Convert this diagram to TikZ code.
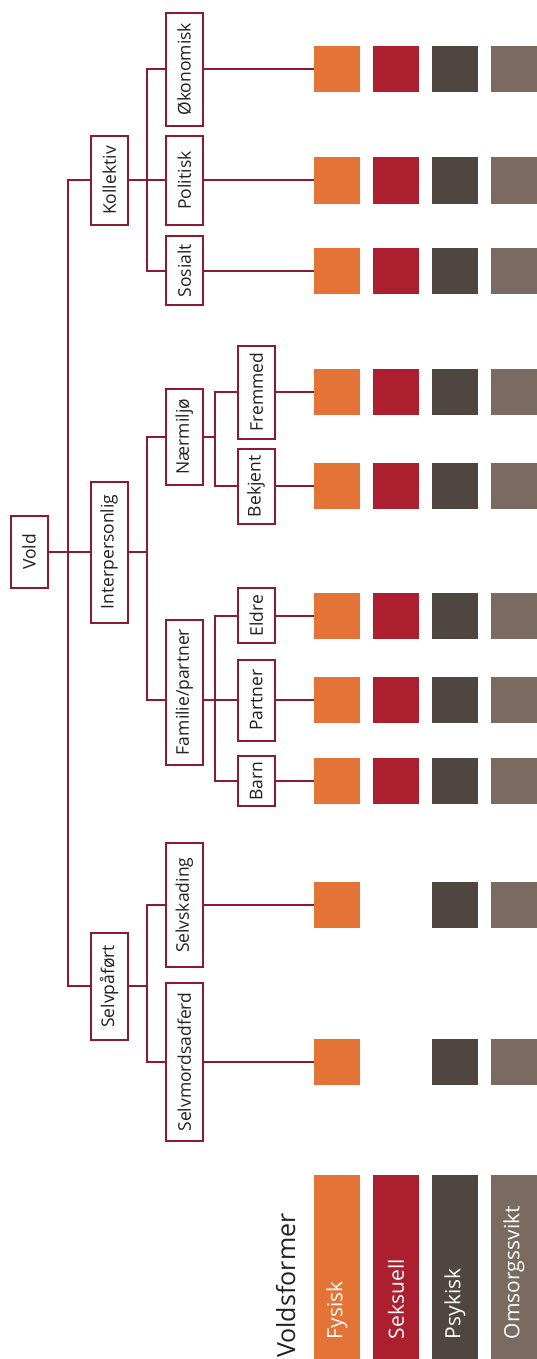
\documentclass[tikz,border=0pt]{standalone}
\usepackage{fontspec}
\setmainfont{Open Sans}
\definecolor{lc}{HTML}{8A1B31}
\definecolor{cfys}{HTML}{E37336}
\definecolor{csek}{HTML}{AB1F2F}
\definecolor{cpsy}{HTML}{4F4541}
\definecolor{coms}{HTML}{7A6A5F}
\definecolor{txt}{HTML}{231F20}
\begin{document}
\begin{tikzpicture}[x=1pt,y=-1pt,
  box/.style={draw=lc,line width=2pt,fill=white,rotate=90,minimum height=37pt,inner sep=0pt,font=\fontsize{17.5}{20}\selectfont,text=txt},
  sq/.style={minimum size=46pt,inner sep=0pt,draw=none},
  conn/.style={draw=lc,line width=2pt},
  bar/.style={rotate=90,minimum width=184pt,minimum height=46pt,text width=144pt,inner xsep=20pt,inner ysep=0pt,align=left,text=white,font=\fontsize{21}{24}\selectfont}
]
\useasboundingbox (0,0) rectangle (536,1359);
% tree nodes
\node[box,minimum width=72pt] (vold) at (29,552) {Vold};
\node[box,minimum width=89pt] (kol) at (109.2,180.5) {Kollektiv};
\node[box,minimum width=141pt] (inter) at (109.2,552) {Interpersonlig};
\node[box,minimum width=107pt] (selv) at (109.2,986.3) {Selvpåført};
\node[box,minimum width=113pt] (oko) at (184.3,69.2) {Økonomisk};
\node[box,minimum width=88pt] (pol) at (184.3,180.5) {Politisk};
\node[box,minimum width=69pt] (sos) at (184.3,270.7) {Sosialt};
\node[box,minimum width=96pt] (naer) at (184.3,436.7) {Nærmiljø};
\node[box,minimum width=145pt] (fam) at (184.3,692) {Familie/partner};
\node[box,minimum width=124pt] (skad) at (184.3,905.3) {Selvskading};
\node[box,minimum width=158pt] (mord) at (184.3,1062) {Selvmordsadferd};
\node[box,minimum width=93pt] (frem) at (256.2,392) {Fremmed};
\node[box,minimum width=75pt] (bek) at (256.2,486.3) {Bekjent};
\node[box,minimum width=55pt] (eld) at (256.2,615.7) {Eldre};
\node[box,minimum width=81pt] (par) at (256.2,700.3) {Partner};
\node[box,minimum width=50pt] (barn) at (256.2,781) {Barn};
% squares
\foreach \r/\y in {oko/69.2,pol/180.5,sos/270.7,frem/392,bek/486.3,eld/615.7,par/700.3,barn/781,skad/905.3,mord/1062}{
  \node[sq,fill=cfys] (f-\r) at (337,\y) {};
  \node[sq,fill=cpsy] (p-\r) at (455,\y) {};
  \node[sq,fill=coms] (o-\r) at (514,\y) {};
}
\foreach \r/\y in {oko/69.2,pol/180.5,sos/270.7,frem/392,bek/486.3,eld/615.7,par/700.3,barn/781}{
  \node[sq,fill=csek] (s-\r) at (396,\y) {};
}
% connectors
\coordinate (m) at (68,0);
\coordinate (b1) at (147,0);
\coordinate (b2) at (215,0);
\draw[conn] (kol.north) -- (kol.north -| m) -- (selv.north -| m) -- (selv.north);
\draw[conn] (vold.south) -- (inter.north);
\draw[conn] (kol.south) -- (pol.north);
\draw[conn] (oko.north) -- (oko.north -| b1) -- (sos.north -| b1) -- (sos.north);
\draw[conn] (inter.south) -- (inter.south -| b1);
\draw[conn] (naer.north) -- (naer.north -| b1) -- (b1 |- par.north) -- (fam.north |- par.north);
\draw[conn] (naer.south) -- (naer.south -| b2);
\draw[conn] (frem.north) -- (frem.north -| b2) -- (bek.north -| b2) -- (bek.north);
\draw[conn] (fam.south |- par.north) -- (par.north);
\draw[conn] (eld.north) -- (eld.north -| b2) -- (barn.north -| b2) -- (barn.north);
\draw[conn] (selv.south) -- (selv.south -| b1);
\draw[conn] (skad.north) -- (skad.north -| b1) -- (mord.north -| b1) -- (mord.north);
\foreach \r in {oko,pol,sos,frem,bek,eld,par,barn,skad,mord}{
  \draw[conn] (\r.south) -- (\r.south -| f-\r.west);
}
% legend
\node[bar,fill=cfys] (lf) at (337,1267) {Fysisk};
\node[bar,fill=csek] (ls) at (396,1267) {Seksuell};
\node[bar,fill=cpsy] (lp) at (455,1267) {Psykisk};
\node[bar,fill=coms] (lo) at (514,1267) {Omsorgssvikt};
\node[rotate=90,anchor=base west,inner sep=0pt,font=\fontsize{25}{28}\selectfont,text=txt] (vf) at (295,1358) {Voldsformer};
\end{tikzpicture}
\end{document}
